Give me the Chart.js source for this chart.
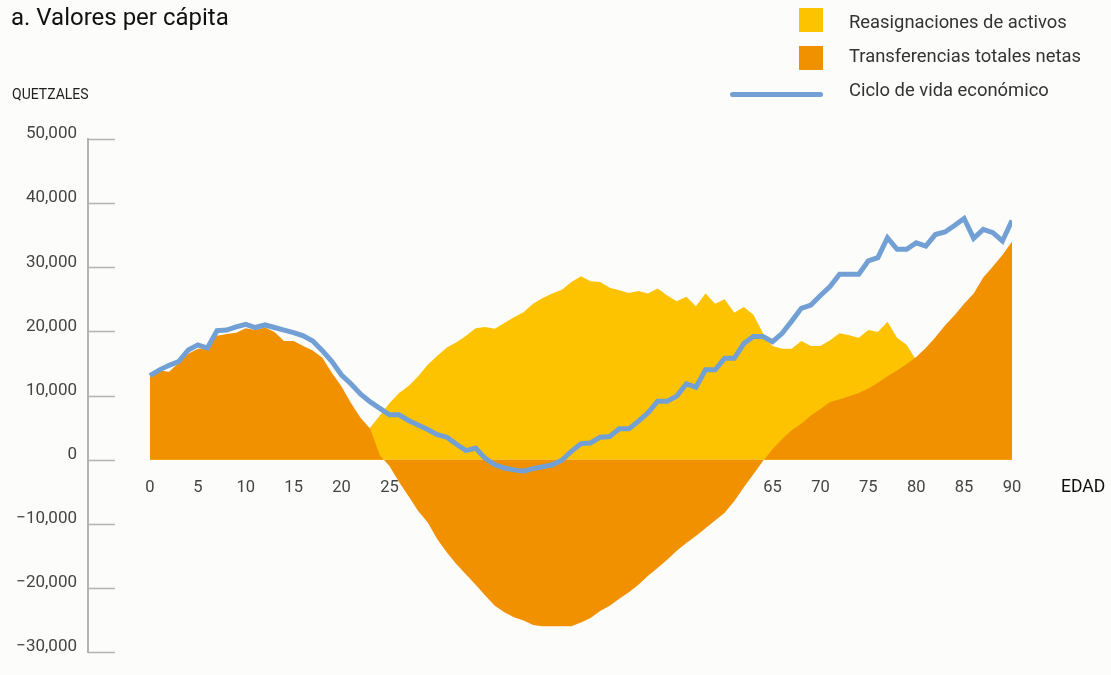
<!DOCTYPE html>
<html>
<head>
<meta charset="utf-8">
<script src="https://cdn.jsdelivr.net/npm/chart.js@4"></script>
<style>
  body { margin: 0; background: #fcfcfb; font-family: Roboto, sans-serif; }
  #wrap { position: relative; width: 1111px; height: 675px; }
  #title { position: absolute; left: 11px; top: 3px; font-size: 24px; color: #111; }
  #unit { position: absolute; left: 12px; top: 86px; font-size: 14px; color: #222; }
  #edad { position: absolute; left: 1061px; top: 476px; font-size: 17.5px; color: #111; }
  .leg { position: absolute; left: 849px; font-size: 18.4px; color: #333; }
  .sw { position: absolute; left: 799px; width: 24px; height: 24px; }
</style>
</head>
<body>
<div id="wrap">
  <canvas id="chart"></canvas>
  <div id="title">a. Valores per cápita</div>
  <div id="unit">QUETZALES</div>
  <div id="edad">EDAD</div>
  <div class="sw" style="top:8px;background:#fdc300"></div>
  <div class="leg" style="top:11px">Reasignaciones de activos</div>
  <div class="sw" style="top:46px;background:#f29100"></div>
  <div class="leg" style="top:45px">Transferencias totales netas</div>
  <div style="position:absolute;left:730px;top:92px;width:93px;height:5px;border-radius:3px;background:#72a0d4"></div>
  <div class="leg" style="top:79px">Ciclo de vida económico</div>
</div>
<script>
const ages = [0, 1, 2, 3, 4, 5, 6, 7, 8, 9, 10, 11, 12, 13, 14, 15, 16, 17, 18, 19,
  20, 21, 22, 23, 24, 25, 26, 27, 28, 29, 30, 31, 32, 33, 34, 35, 36, 37, 38, 39,
  40, 41, 42, 43, 44, 45, 46, 47, 48, 49, 50, 51, 52, 53, 54, 55, 56, 57, 58, 59,
  60, 61, 62, 63, 64, 65, 66, 67, 68, 69, 70, 71, 72, 73, 74, 75, 76, 77, 78, 79,
  80, 81, 82, 83, 84, 85, 86, 87, 88, 89, 90];

// Reasignaciones de activos
const reasignaciones = [300, 300, 400, 400, 500, 500, 500, 600, 600, 700,
  700, 700, 800, 800, 900, 1000, 1100, 1200, 1300, 1500,
  1800, 2500, 3500, 5000, 6900, 8800, 10400, 11500, 13000, 14800,
  16200, 17500, 18300, 19300, 20500, 20700, 20400, 21300, 22200, 23000,
  24300, 25200, 25900, 26500, 27700, 28600, 27800, 27700, 26800, 26400,
  26000, 26300, 25900, 26700, 25600, 24700, 25400, 23900, 25900, 24300,
  25000, 22900, 23800, 22600, 19700, 17700, 17300, 17300, 18500, 17700,
  17700, 18600, 19700, 19400, 19000, 20200, 19900, 21500, 19000, 17900,
  15500, 15900, 16000, 14600, 14000, 13300, 8600, 7500, 5300, 2200, 3300];

// Transferencias totales netas
const transferencias = [13500, 13900, 13700, 15100, 16500, 17300, 17400, 19300, 19600, 19800,
  20500, 20200, 20600, 19900, 18500, 18500, 17700, 17000, 15900, 13500,
  11400, 8800, 6500, 4800, 700, -1000, -3500, -5700, -8000, -9800,
  -12400, -14500, -16300, -17900, -19500, -21200, -22800, -23800, -24600, -25100,
  -25800, -26000, -26000, -26000, -26000, -25400, -24700, -23600, -22800, -21700,
  -20700, -19500, -18100, -16900, -15600, -14200, -13000, -11900, -10700, -9500,
  -8300, -6500, -4300, -2300, -200, 1600, 3200, 4600, 5600, 6900,
  7900, 9000, 9400, 9900, 10400, 11100, 12000, 13000, 13900, 14900,
  16000, 17400, 19100, 20900, 22500, 24300, 25900, 28400, 30100, 31900, 34000];

// Ciclo de vida económico
const ciclo = [13100, 14000, 14700, 15300, 17100, 17900, 17400, 20100, 20200, 20700,
  21100, 20600, 21000, 20600, 20200, 19800, 19300, 18500, 17000, 15300,
  13200, 11800, 10200, 9000, 8000, 7000, 7000, 6100, 5400, 4700,
  3900, 3500, 2400, 1400, 1800, 200, -800, -1300, -1600, -1800,
  -1400, -1100, -800, -100, 1300, 2500, 2600, 3500, 3600, 4800,
  4800, 6000, 7300, 9100, 9100, 9900, 11800, 11300, 14000, 14000,
  15800, 15800, 18100, 19200, 19200, 18400, 19700, 21600, 23600, 24100,
  25600, 27000, 28900, 28900, 28900, 31000, 31500, 34600, 32800, 32800,
  33800, 33300, 35100, 35500, 36500, 37600, 34500, 35900, 35400, 34100, 37300];

const xTicks = [0, 5, 10, 15, 20, 25, 30, 35, 40, 45, 50, 55, 60, 65, 70, 75, 80, 85, 90];
const yTicks = [-30000, -20000, -10000, 0, 10000, 20000, 30000, 40000, 50000];

const pts = vals => ages.map((a, i) => ({ x: a, y: vals[i] }));
const fmt = v => (v < 0 ? '\u2212' : '') + Math.abs(v).toLocaleString('en-US');

// short tick marks that stick into the plot from the y axis
const yTickMarks = {
  id: 'yTickMarks',
  afterDraw(chart) {
    const { ctx, chartArea, scales } = chart;
    ctx.save();
    ctx.strokeStyle = '#b3b3b3';
    ctx.lineWidth = 1.5;
    yTicks.forEach(v => {
      const y = Math.round(scales.y.getPixelForValue(v)) + 0.5;
      ctx.beginPath();
      ctx.moveTo(chartArea.left, y);
      ctx.lineTo(chartArea.left + 27, y);
      ctx.stroke();
    });
    ctx.restore();
  }
};

Chart.defaults.font.family = 'Roboto, sans-serif';

new Chart(document.getElementById('chart'), {
  type: 'line',
  data: {
    datasets: [{
      label: 'Ciclo de vida económico',
      data: pts(ciclo),
      borderColor: '#72a0d4',
      borderWidth: 5,
      pointRadius: 0,
      fill: false,
      tension: 0,
      order: 0
    }, {
      label: 'Transferencias totales netas',
      data: pts(transferencias),
      backgroundColor: '#f29100',
      borderWidth: 0,
      pointRadius: 0,
      fill: 'origin',
      tension: 0,
      order: 1
    }, {
      label: 'Reasignaciones de activos',
      data: pts(reasignaciones),
      backgroundColor: '#fdc300',
      borderWidth: 0,
      pointRadius: 0,
      fill: 'origin',
      tension: 0,
      order: 2
    }]
  },
  options: {
    responsive: true,
    maintainAspectRatio: false,
    animation: false,
    layout: { padding: { top: 139, bottom: 23, left: 0, right: 99 } },
    plugins: { legend: { display: false }, tooltip: { enabled: false } },
    scales: {
      x: {
        type: 'linear',
        position: { y: 0 },
        z: 1,
        min: -6.47,
        max: 90,
        afterBuildTicks: s => { s.ticks = xTicks.map(v => ({ value: v })); },
        grid: { display: false, drawTicks: false },
        border: { display: false },
        ticks: { color: '#444', font: { size: 16.5 }, padding: 18, maxRotation: 0, autoSkip: false }
      },
      y: {
        min: -30000,
        max: 50000,
        afterBuildTicks: s => { s.ticks = yTicks.map(v => ({ value: v })); },
        afterFit: s => { s.width = 88; },
        grid: { display: false, drawTicks: false },
        border: { display: true, color: '#b3b3b3', width: 2 },
        ticks: { color: '#444', font: { size: 17 }, padding: 11, labelOffset: -5, callback: v => fmt(v) }
      }
    }
  },
  plugins: [yTickMarks]
});
</script>
</body>
</html>
